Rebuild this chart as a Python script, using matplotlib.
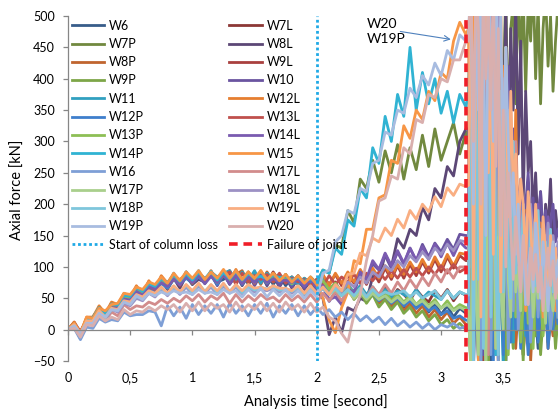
import numpy as np
import matplotlib.pyplot as plt

plt.rcParams['font.family'] = ['Lato', 'DejaVu Sans']

# sample times: 0.05 s steps up to the joint failure, 0.02 s steps after it
t = np.concatenate([np.arange(65) * 0.05, 3.22 + np.arange(37) * 0.02])

# axial forces [kN] (pre-failure, then post-failure)
w6 = [0, 8, -10, 14, 16, 34, 20, 38, 34, 52, 46, 64, 54, 70, 60, 78, 66, 84, 70, 86,
      72, 88, 74, 90, 76, 80, 90, 74, 92, 72, 86, 76, 90, 72, 86, 70, 84, 74, 70, 82, 66,
      78, 62, 74, 56, 70, 52, 66, 48, 62, 44, 58, 40, 54, 36, 50, 34, 46, 28, 42, 24, 38, 20, 34, 26,
      30, 450, -70, 250, 560, -60, 300, 100, 520, -50, 200, 560, -40, 350, 30, -70, 250, 50, -20, 180,
      10, 60, -40, 40, 100, -10, 50, 20, -30, 60, 10, 40, -20, 30, 70, 0, 40]
w7l = [0, 10, -6, 18, 18, 32, 26, 40, 36, 50, 50, 64, 58, 72, 64, 78, 74, 88, 76, 86,
       78, 92, 76, 90, 80, 86, 94, 76, 90, 82, 76, 90, 74, 92, 76, 86, 72, 84, 70, 80, 66,
       74, 60, 76, 56, 72, 54, 70, 50, 68, 52, 66, 48, 64, 56, 46, 64, 52, 44, 62, 50, 64, 46, 60, 55,
       55, -60, 380, 100, -50, 500, 40, 250, -40, 420, 80, -30, 300, 60, 400, 10, 220, 180, 90, 240,
       170, 200, 120, 160, 90, 150, 110, 70, 130, 90, 60, 110, 80, 50, 90, 70, 60]
w7p = [0, 6, -8, 16, 20, 34, 24, 38, 36, 56, 48, 66, 54, 72, 66, 76, 72, 82, 76, 88,
       78, 84, 80, 90, 74, 92, 78, 90, 80, 86, 80, 88, 82, 86, 78, 84, 76, 86, 72, 84, 74,
       95, 90, 135, 130, 190, 170, 240, 225, 270, 235, 285, 250, 295, 240, 290, 255, 310, 260, 320, 270,
       300, 330, 280, 315,
       300, 520, 150, 560, 380, 90, 540, 420, 250, 500, 320, 560, 200, 450, 380, 540, 300, 480, 520, 360,
       560, 420, 540, 380, 520, 460, 560, 400, 520, 360, 480, 540, 420, 500, 380, 460, 520]
w8l = [0, 4, -14, 12, 14, 30, 18, 36, 30, 50, 44, 62, 50, 68, 62, 80, 64, 82, 66, 86,
       72, 80, 76, 88, 72, 90, 72, 88, 70, 86, 72, 90, 70, 86, 68, 84, 66, 82, 64, 78, 60,
       50, -8, 20, -5, 35, 30, 50, 45, 85, 80, 120, 100, 145, 130, 160, 150, 195, 175, 225, 210,
       260, 245, 300, 320,
       320, -40, 400, 150, 560, 60, 300, 520, 100, 450, 250, 540, 180, 400, 300, 520, 250, 480, 350, 520,
       280, 460, 200, 380, 250, 300, 180, 250, 150, 220, 120, 200, 160, 240, 130, 190, 150]
w8p = [0, 10, -8, 18, 14, 36, 22, 42, 38, 54, 52, 66, 58, 76, 62, 82, 66, 86, 72, 90,
       74, 92, 76, 94, 74, 90, 80, 88, 94, 74, 90, 72, 92, 76, 86, 78, 84, 72, 82, 74, 80,
       78, 64, 72, 58, 66, 52, 64, 46, 58, 42, 50, 36, 48, 30, 42, 26, 38, 20, 32, 16, 28, 10, 20, 8,
       10, 400, -70, 180, 560, -50, 300, 20, -60, 450, 60, 500, -40, 200, -20, 300, 140, 0, 180, -30,
       40, 90, -40, 20, 70, -50, 30, 0, 60, -20, 10, 50, -30, 20, -10, 30, 0]
w9l = [0, 12, -4, 16, 20, 34, 22, 42, 38, 54, 52, 66, 60, 70, 68, 78, 72, 88, 70, 92,
       76, 86, 80, 90, 72, 92, 76, 94, 74, 90, 76, 92, 74, 90, 72, 88, 74, 84, 76, 82, 74,
       86, 72, 88, 70, 86, 74, 92, 72, 94, 76, 98, 80, 102, 82, 104, 86, 108, 90, 112, 92,
       116, 98, 118, 110,
       110, 540, -40, 300, 50, 560, -60, 250, 450, 0, 380, 100, -50, 420, 140, 60, 300, 100, 280, 120,
       210, 150, 100, 190, 130, 170, 90, 160, 120, 80, 140, 100, 60, 120, 80, 100, 70]
w9p = [0, 8, -10, 14, 18, 32, 20, 40, 34, 52, 48, 64, 56, 74, 64, 80, 70, 86, 72, 88,
       74, 90, 74, 92, 76, 86, 78, 90, 80, 92, 74, 88, 78, 86, 72, 88, 70, 84, 68, 82, 66,
       76, 60, 72, 54, 66, 48, 60, 42, 56, 36, 48, 32, 44, 26, 36, 20, 30, 14, 24, 8, 16, 2, 10, 0,
       0, 300, -70, 450, 40, -60, 380, 80, -50, 560, 20, 250, -40, 400, 50, -60, 200, 20, -30, 120,
       0, 40, -50, 80, 10, -30, 50, -10, 30, -40, 20, 60, -20, 10, 40, -30, 20]
w10 = [0, 4, -12, 10, 14, 28, 22, 36, 32, 50, 46, 62, 54, 70, 64, 74, 70, 80, 74, 86,
       76, 84, 74, 90, 70, 88, 74, 84, 78, 90, 70, 88, 72, 86, 70, 84, 68, 86, 66, 82, 64,
       70, 45, 60, 40, 70, 60, 88, 78, 105, 95, 118, 98, 124, 104, 130, 110, 136, 116, 138, 124,
       144, 128, 152, 150,
       150, 520, 0, 400, 100, 560, -40, 380, 500, 80, 450, 150, 500, 60, 380, 180, 420, 120, 320, 260,
       180, 240, 140, 200, 250, 160, 210, 120, 180, 220, 150, 190, 110, 170, 200, 140, 160]
w11 = [0, 10, -8, 16, 16, 34, 24, 42, 34, 56, 50, 66, 60, 76, 66, 84, 70, 90, 74, 92,
       78, 94, 76, 92, 84, 90, 94, 76, 92, 78, 94, 74, 90, 80, 86, 78, 84, 72, 82, 74, 80,
       80, 64, 74, 60, 72, 58, 70, 56, 68, 54, 64, 52, 62, 56, 50, 64, 50, 60, 54, 48, 62, 50, 60, 55,
       55, -70, 400, 60, -50, 350, 560, -40, 250, 20, 450, -30, 300, 70, -60, 350, 40, 200, -20, 150,
       20, 120, 60, -10, 90, 40, 130, 20, 70, 110, 30, 80, 0, 60, 100, 40, 70]
w12l = [0, 12, -6, 20, 20, 38, 26, 44, 40, 58, 52, 70, 56, 78, 64, 86, 74, 84, 80, 88,
        78, 90, 82, 86, 80, 94, 76, 96, 78, 92, 74, 94, 76, 90, 80, 86, 76, 84, 72, 82, 72,
        88, 70, 90, 74, 92, 76, 96, 78, 98, 82, 102, 84, 104, 88, 108, 92, 112, 94, 116, 98,
        120, 102, 122, 120,
        120, -50, 500, 80, 560, -30, 350, 520, 20, 450, 100, -40, 350, 60, 420, 120, 10, 300, 90, 350,
        130, 170, 80, 190, 110, 150, 60, 140, 100, 170, 70, 120, 90, 140, 60, 100, 80]
w12p = [0, 6, -12, 12, 12, 30, 20, 36, 32, 48, 46, 60, 54, 66, 60, 74, 66, 80, 72, 82,
        74, 84, 76, 86, 72, 88, 74, 90, 72, 86, 76, 84, 74, 82, 76, 80, 72, 78, 70, 76, 68,
        74, 60, 70, 58, 66, 54, 62, 50, 58, 46, 54, 42, 50, 38, 46, 34, 42, 30, 36, 24, 30, 18, 22, 15,
        15, 350, -70, 120, 500, -50, 250, -30, 400, 40, -60, 350, 10, 200, -40, 250, 30, -20, 150, 0,
        50, -30, 60, 20, -40, 40, 0, 70, -20, 30, 10, 50, -30, 20, 0, 40, 10]
w13l = [0, 8, -2, 14, 18, 30, 26, 36, 36, 50, 48, 62, 58, 68, 64, 76, 70, 80, 76, 88,
        74, 90, 76, 88, 78, 86, 92, 72, 90, 76, 86, 80, 88, 76, 90, 74, 82, 76, 80, 70, 80,
        70, 86, 72, 84, 76, 88, 74, 90, 78, 92, 80, 94, 82, 96, 84, 98, 86, 100, 88, 102, 90, 104, 92, 98,
        100, -50, 450, 120, -30, 560, 60, 350, -20, 480, 90, 300, 30, 400, 110, 260, 80, 300, 130, 200,
        170, 140, 90, 180, 120, 150, 70, 130, 100, 160, 90, 120, 60, 110, 140, 80, 100]
w13p = [0, 7, -8, 15, 17, 33, 23, 37, 37, 51, 49, 63, 57, 71, 67, 77, 73, 83, 77, 85,
        79, 87, 81, 89, 75, 91, 77, 93, 79, 85, 81, 89, 75, 87, 79, 83, 73, 85, 71, 83, 71,
        78, 64, 74, 60, 70, 56, 66, 52, 62, 50, 60, 46, 56, 44, 54, 40, 50, 38, 48, 34, 46, 32, 40, 35,
        35, -60, 250, 500, -40, 150, 400, -70, 120, 450, 0, 200, -50, 300, 30, 180, -40, 120, 220, 20,
        80, -20, 40, 100, 10, 60, -30, 80, 30, 50, -10, 40, 70, 0, 30, 60, 20]
w14l = [0, 5, -10, 13, 15, 31, 21, 35, 35, 49, 47, 61, 55, 69, 65, 75, 69, 81, 71, 85,
        75, 87, 73, 85, 75, 89, 73, 87, 73, 85, 75, 87, 75, 81, 77, 79, 75, 81, 69, 81, 67,
        70, 48, 52, 40, 66, 58, 92, 80, 110, 96, 122, 102, 126, 106, 130, 110, 132, 112, 136, 116,
        138, 118, 140, 130,
        130, 500, 20, 400, 560, 60, 450, -30, 350, 520, 100, 420, 40, 350, 150, 400, 100, 300, 160, 280,
        120, 180, 210, 140, 190, 100, 170, 130, 200, 110, 150, 90, 180, 120, 140, 100, 130]
w14p = [0, 9, -9, 17, 19, 35, 25, 41, 39, 55, 53, 67, 61, 73, 69, 81, 75, 87, 77, 89,
        79, 91, 81, 93, 79, 91, 81, 93, 79, 89, 83, 85, 81, 87, 83, 85, 79, 83, 77, 81, 75,
        95, 90, 130, 120, 175, 165, 225, 210, 290, 265, 340, 300, 375, 340, 450, 350, 410, 360, 400, 345,
        380, 330, 375, 355,
        380, 560, -60, 450, 200, 520, 30, 380, 480, 100, 350, -40, 250, 420, 60, 300, 150, 200, 80, 160,
        40, 120, 180, 60, 140, 90, 30, 110, 160, 70, 130, 50, 100, 150, 80, 120, 60]
w15 = [0, 10, -5, 20, 18, 34, 30, 40, 42, 58, 56, 68, 64, 76, 72, 84, 74, 90, 78, 92,
       82, 94, 80, 92, 82, 96, 82, 94, 80, 92, 82, 94, 80, 90, 78, 88, 76, 86, 74, 84, 72,
       50, 15, -5, 35, 60, 110, 105, 160, 160, 210, 215, 270, 265, 325, 305, 350, 335, 380, 365, 410,
       400, 460, 490, 470,
       480, 100, 560, 250, -50, 500, 350, 60, 540, 200, 450, -30, 380, 520, 150, 420, 80, 300, 200, 100,
       150, 60, 120, 30, 90, 160, 40, 100, 70, 130, 20, 80, 120, 50, 90, 30, 70]
w16 = [0, 2, -16, 4, 2, 18, 12, 16, 14, 28, 22, 24, 24, 30, 28, 6, 38, 22, 36, 18,
       40, 24, 38, 26, 40, 20, 42, 26, 38, 22, 40, 26, 42, 20, 38, 26, 40, 22, 38, 24, 36,
       24, 32, 20, 28, 16, 26, 14, 22, 12, 20, 8, 18, 6, 14, 4, 12, 2, 10, 0, 8, 4, 10, 2, 5,
       5, 300, -70, 500, 60, -50, 400, 0, 560, -40, 200, 450, -60, 300, 20, 200, -30, 160, 30, 220,
       0, 70, 150, 40, 90, -20, 60, 110, 20, 80, 130, 30, 70, 0, 50, 90, 20]
w17l = [0, 6, -10, 8, 8, 24, 14, 28, 22, 40, 32, 38, 36, 44, 40, 48, 42, 50, 44, 54,
        46, 56, 44, 54, 48, 58, 42, 56, 44, 54, 46, 56, 48, 52, 44, 56, 46, 54, 44, 56, 44,
        58, 46, 60, 46, 62, 50, 66, 52, 68, 56, 72, 58, 76, 62, 80, 66, 84, 70, 90, 76, 96, 82, 100, 100,
        100, 500, -20, 350, 560, 50, 450, 120, -40, 480, 150, 60, 400, 100, 300, 420, 130, 350, 90, 300,
        140, 100, 160, 120, 180, 90, 140, 110, 70, 130, 100, 150, 80, 120, 90, 110, 70]
w17p = [0, 7, -7, 12, 12, 28, 18, 32, 30, 44, 40, 52, 48, 60, 54, 66, 56, 68, 58, 70,
        58, 72, 60, 70, 58, 72, 60, 70, 58, 68, 62, 66, 64, 68, 62, 64, 60, 66, 56, 68, 58,
        66, 56, 64, 54, 62, 50, 60, 48, 58, 48, 54, 44, 52, 42, 50, 40, 46, 36, 44, 34, 40, 30, 36, 30,
        30, -70, 350, 50, -40, 500, 100, -60, 400, 40, 300, -30, 450, 60, 0, 350, 80, 20, 260, 60,
        100, 30, 160, 80, 40, 120, 20, 90, 50, 140, 70, 10, 100, 60, 30, 80, 50]
w18l = [0, 5, -8, 10, 10, 26, 16, 32, 28, 42, 38, 50, 46, 58, 52, 64, 54, 66, 56, 68,
        56, 70, 58, 68, 56, 70, 58, 68, 56, 66, 60, 64, 62, 66, 60, 62, 58, 66, 54, 66, 56,
        66, 56, 70, 60, 76, 68, 84, 74, 92, 84, 102, 94, 110, 100, 118, 108, 124, 112, 130, 120,
        136, 126, 142, 140,
        140, 560, 50, 480, 200, 560, 100, 500, 250, 60, 450, 150, 520, 120, 400, 180, 350, 140, 300, 160,
        220, 130, 190, 170, 110, 200, 150, 180, 120, 160, 140, 100, 170, 130, 150, 110, 140]
w18p = [0, 6, -6, 13, 13, 29, 19, 33, 31, 45, 41, 53, 49, 61, 55, 67, 57, 69, 59, 71,
        59, 73, 61, 71, 59, 73, 61, 71, 59, 69, 63, 67, 65, 69, 63, 65, 61, 67, 57, 67, 59,
        66, 56, 66, 54, 64, 54, 66, 52, 64, 54, 60, 56, 58, 62, 52, 60, 50, 56, 62, 48, 62, 50, 60, 56,
        55, 500, -50, 400, 80, 560, -30, 300, 450, 20, 520, 100, -40, 380, 60, 450, 120, 50, 300, 90,
        150, 60, 200, 110, 40, 170, 130, 70, 190, 100, 50, 140, 90, 160, 60, 120, 100]
w19l = [0, 8, -6, 14, 14, 30, 20, 34, 32, 46, 44, 56, 52, 62, 58, 68, 58, 70, 60, 72,
        62, 74, 60, 72, 62, 74, 60, 72, 62, 72, 66, 68, 64, 70, 66, 66, 62, 70, 58, 70, 58,
        68, 56, 72, 62, 88, 90, 122, 118, 146, 140, 162, 150, 176, 162, 190, 176, 200, 188, 212, 196,
        226, 214, 232, 228,
        230, 560, 80, 420, 540, 20, 350, 560, 250, 480, 120, 520, 400, 60, 300, 450, 180, 380, 220, 280,
        150, 240, 200, 100, 220, 170, 80, 200, 140, 60, 180, 120, 40, 150, 90, 130, 60]
w19p = [0, 6, -7, 10, 10, 26, 20, 32, 30, 44, 40, 54, 48, 58, 54, 60, 56, 62, 58, 60,
        56, 64, 58, 60, 56, 64, 58, 62, 52, 64, 54, 66, 52, 64, 54, 64, 52, 62, 50, 62, 52,
        90, 95, 140, 150, 190, 185, 225, 220, 265, 270, 315, 310, 350, 345, 385, 370, 405, 390, 425, 405,
        445, 430, 470, 460,
        470, 560, 200, 520, 350, 560, 420, 150, 540, 460, 300, 560, 380, 500, 250, 450, 300, 180, 250, 120,
        200, 80, 150, 40, 100, 130, 60, 170, 110, 50, 140, 90, 30, 100, 140, 70, 110]
w20 = [0, 2, -12, 8, 6, 22, 14, 20, 16, 32, 24, 30, 28, 36, 30, 38, 32, 40, 28, 42,
       30, 44, 30, 42, 34, 40, 28, 44, 30, 40, 32, 44, 30, 42, 28, 44, 32, 40, 28, 42, 28,
       36, 20, 14, -6, -20, 24, 56, 110, 150, 205, 210, 245, 240, 290, 280, 335, 330, 375, 370, 400,
       395, 430, 430, 460,
       460, 560, 300, 540, 480, 200, 560, 400, 520, 350, 560, 260, 480, 150, 350, 100, 250, 160, 80, 180,
       120, 60, 150, 100, 40, 130, 80, 120, 60, 100, 30, 90, 130, 70, 110, 50, 80]

col_loss_t = 2.0
failure_t = 3.2

# Excel drawing order (later series on top)
series = [
    ("W6", w6, "#385D8A"), ("W7L", w7l, "#8C3836"), ("W7P", w7p, "#71893F"),
    ("W8L", w8l, "#5C4776"), ("W8P", w8p, "#C0652F"), ("W9L", w9l, "#A9403E"),
    ("W9P", w9p, "#7DA648"), ("W10", w10, "#6A54A0"), ("W11", w11, "#31A0C0"),
    ("W12L", w12l, "#E67E30"), ("W12P", w12p, "#3F7FCC"), ("W13L", w13l, "#C0504D"),
    ("W13P", w13p, "#8DBF55"), ("W14L", w14l, "#7A5BB0"), ("W14P", w14p, "#30B3D3"),
    ("W15", w15, "#F79646"), ("W16", w16, "#7E9FD6"), ("W17L", w17l, "#D28C8C"),
    ("W17P", w17p, "#A9CF8C"), ("W18L", w18l, "#9C91C4"), ("W18P", w18p, "#7FC6DC"),
    ("W19L", w19l, "#F9AE82"), ("W19P", w19p, "#A8BCE0"), ("W20", w20, "#D9AFAE"),
]

fig = plt.figure(figsize=(5.58, 4.11), dpi=100)
ax = fig.add_axes([68 / 558, 50 / 411, 490 / 558, 345 / 411])

lines = {}
for name, vals, c in series:
    assert len(vals) == len(t), name
    lines[name], = ax.plot(t, vals, color=c, lw=2, label=name)

lines["start"] = ax.axvline(col_loss_t, color="#1FA9E6", lw=2, ls=(0, (1, 1)),
                            label="Start of column loss", zorder=5)
lines["fail"] = ax.axvline(failure_t, color="#F01E28", lw=2.6, ls=(0, (2.4, 1.6)),
                           label="Failure of joint", zorder=5)

ax.set_xlim(0, 3.94)
ax.set_ylim(-50, 500)
ax.set_yticks(np.arange(-50, 501, 50))
xt = np.arange(0, 3.6, 0.5)
ax.set_xticks(xt)
ax.set_xticklabels([f"{v:g}".replace(".", ",") for v in xt])

for s in ["top", "right"]:
    ax.spines[s].set_visible(False)
ax.spines["bottom"].set_position(("data", 0))
for s in ["left", "bottom"]:
    ax.spines[s].set_color("#868686")
    ax.spines[s].set_linewidth(0.9)
ax.tick_params(axis="y", length=3.5, width=0.9, color="#868686", labelsize=9, pad=6)
ax.tick_params(axis="x", length=3.5, width=0.9, color="#868686", labelsize=9, pad=27)

fig.text(18 / 558, 1 - 190 / 411, "Axial force [kN]", rotation=90, ha="center", va="center",
         fontsize=10.5)
fig.text(316 / 558, 1 - 402 / 411, "Analysis time [second]", ha="center", va="center",
         fontsize=10.5)

ax.text(2.40, 497, "W20\nW19P", ha="left", va="top", fontsize=10, linespacing=1.3)
ax.annotate("", xy=(3.10, 462), xytext=(2.65, 476),
            arrowprops=dict(arrowstyle="->", color="#4F81BD", lw=0.8))

col1 = ["W6", "W7P", "W8P", "W9P", "W11", "W12P", "W13P", "W14P", "W16", "W17P", "W18P", "W19P", "start"]
col2 = ["W7L", "W8L", "W9L", "W10", "W12L", "W13L", "W14L", "W15", "W17L", "W18L", "W19L", "W20", "fail"]
handles = [lines[k] for k in col1 + col2]
ax.legend(handles=handles, ncol=2, loc="upper left", bbox_to_anchor=(0, 1.0), frameon=False,
          fontsize=9, handlelength=2.6, handletextpad=0.4, columnspacing=0.9,
          labelspacing=0.5, borderaxespad=0.1, borderpad=0.2)

fig.savefig("out.png", dpi=100)
